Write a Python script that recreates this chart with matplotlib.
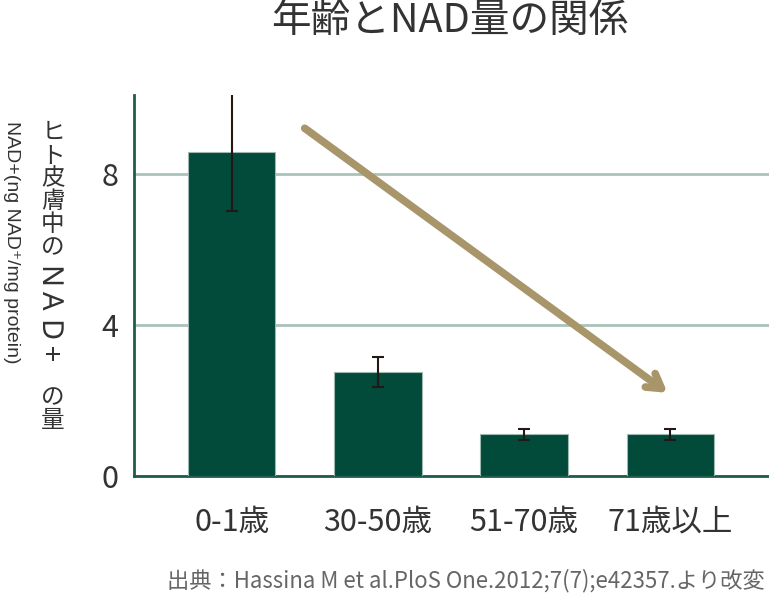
import matplotlib
matplotlib.use('Agg')
import matplotlib.pyplot as plt
from matplotlib.textpath import TextPath
from matplotlib.patches import PathPatch
from matplotlib.font_manager import FontProperties
from matplotlib.transforms import Affine2D

plt.rcParams['font.family'] = ['Noto Sans CJK JP', 'DejaVu Sans']

categories = ['0-1歳', '30-50歳', '51-70歳', '71歳以上']
nad_values = [8.57, 2.76, 1.10, 1.10]
nad_errors = [1.56, 0.40, 0.15, 0.15]
y_ticks = [0, 4, 8]
arrow_start = (0.5, 9.2)
arrow_end = (2.98, 2.2)

title = '年齢とNAD量の関係'
ylabel_top = 'ヒト皮膚中の'
ylabel_mid = 'NAD+'
ylabel_bottom = 'の量'
ylabel_unit = 'NAD+(ng NAD⁺/mg protein)'
source = '出典：Hassina M et al.PloS One.2012;7(7);e42357.より改変'

bar_color = '#024a3a'
grid_color = '#a9c2ba'
axis_color = '#1f5c4c'
arrow_color = '#a8956a'
text_color = '#333333'

W, H = 769, 594
fig = plt.figure(figsize=(W / 100, H / 100), dpi=100)
ax = fig.add_axes([134 / W, 1 - 476 / H, (W - 134) / W, (476 - 95) / H])

x = range(len(categories))
ax.bar(x, nad_values, width=0.6, color=bar_color, edgecolor='#9fb8b0',
       linewidth=0.8, zorder=3)
ax.errorbar(x, nad_values, yerr=nad_errors, fmt='none', ecolor='#231815',
            elinewidth=1.5, capsize=4, capthick=1.5, zorder=4)

ax.set_xlim(-0.667, 3.674)
ax.set_ylim(0, 10.08)
ax.set_yticks(y_ticks)
ax.set_xticks(list(x))
ax.set_xticklabels(categories, fontsize=22, color=text_color)
ax.tick_params(axis='y', labelsize=22, labelcolor=text_color, length=0, pad=11)
ax.tick_params(axis='x', length=0, pad=22)

ax.yaxis.grid(True, color=grid_color, linewidth=2, zorder=0)
ax.set_axisbelow(True)
for side in ['top', 'right']:
    ax.spines[side].set_visible(False)
for side in ['left', 'bottom']:
    ax.spines[side].set_color(axis_color)
    ax.spines[side].set_linewidth(2)

ax.annotate('', xy=arrow_end, xytext=arrow_start,
            arrowprops=dict(arrowstyle='->,head_length=1.0,head_width=0.6',
                            color=arrow_color, lw=5.5, shrinkA=0, shrinkB=0),
            zorder=5)

fig.text(450 / W, 1 - 21 / H, title, ha='center', va='center', fontsize=28.5,
         color=text_color)

# main y label in vertical writing: upright kana/kanji, sideways latin
fig.text(53 / W, 1 - 121 / H, '\n'.join(ylabel_top), ha='center', va='top',
         fontsize=17, color=text_color, linespacing=1.0)
# sideways latin part drawn as glyph outlines, turned clockwise (pixel coords)
latin_prop = FontProperties(family='Noto Sans')
for i, ch in enumerate(ylabel_mid):
    glyph = TextPath((0, 0), ch, size=29, prop=latin_prop)
    tr = Affine2D().rotate_deg(-90).translate(43, H - (265 + 27 * i))
    fig.add_artist(PathPatch(glyph, transform=tr, facecolor=text_color,
                             edgecolor='none'))
fig.text(53 / W, 1 - 386 / H, '\n'.join(ylabel_bottom), ha='center', va='top',
         fontsize=17, color=text_color, linespacing=1.0)

fig.text(11 / W, 1 - 242 / H, ylabel_unit, rotation=270, ha='center', va='center',
         fontsize=14, color=text_color, family=['Liberation Sans', 'DejaVu Sans'])
fig.text(765 / W, 1 - 581 / H, source, ha='right', va='center', fontsize=16,
         color='#666666')

fig.savefig('out.png', dpi=100)
